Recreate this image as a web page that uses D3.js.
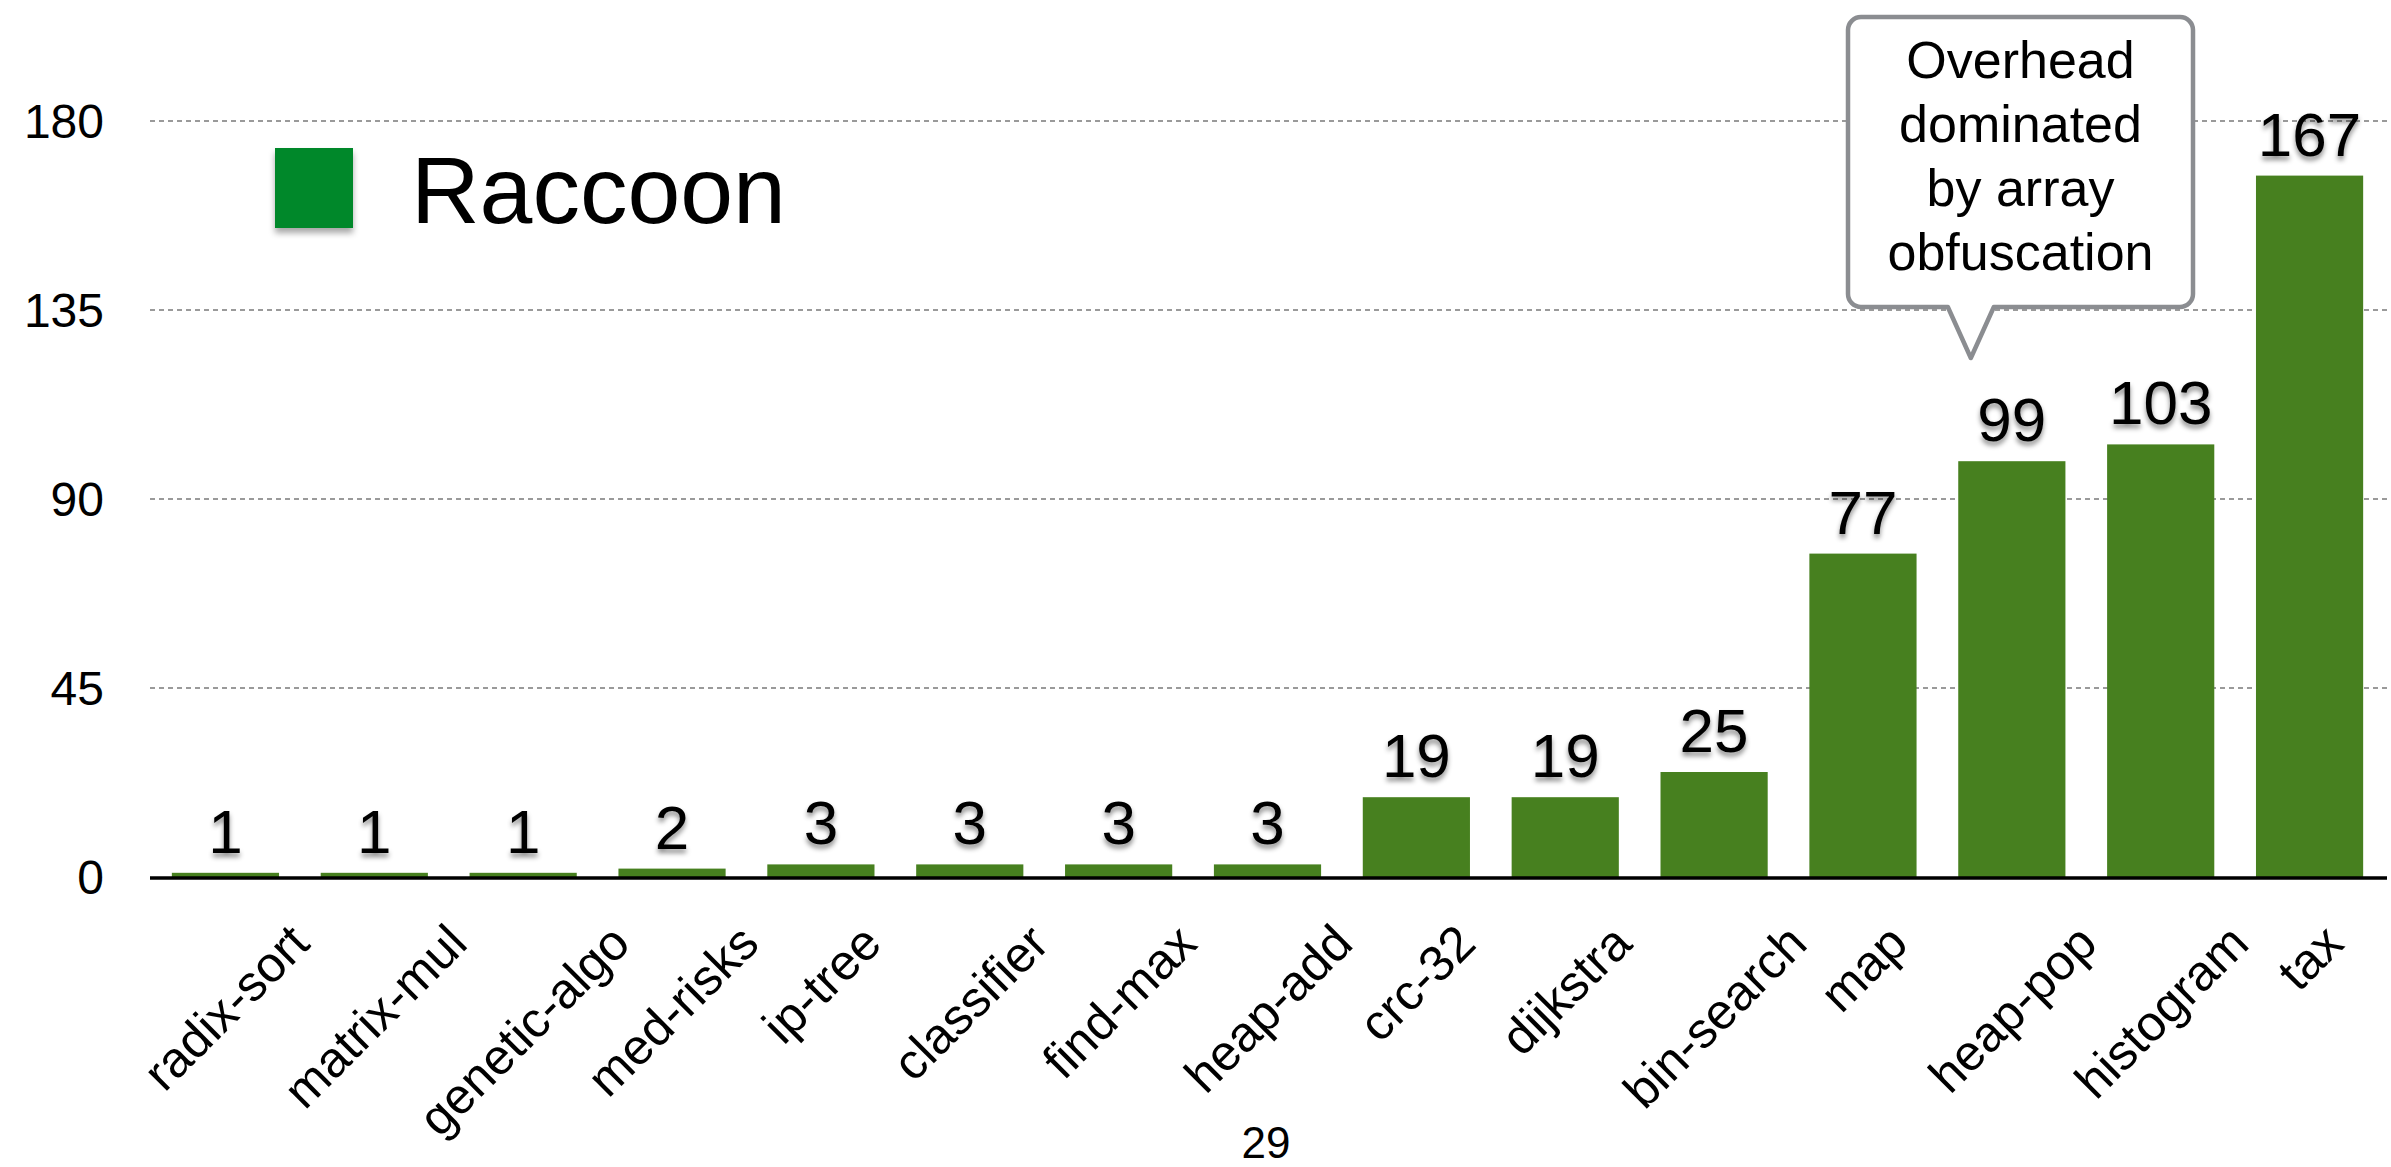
<!DOCTYPE html>
<html>
<head>
<meta charset="utf-8">
<script src="https://cdn.jsdelivr.net/npm/d3@7"></script>
<style>
  html, body { margin: 0; padding: 0; background: #fff; }
  svg { display: block; font-family: "Liberation Sans", "Helvetica Neue", Arial, sans-serif; }
</style>
</head>
<body>
<svg id="chart" width="2391" height="1167"></svg>
<script>
const categories = ["radix-sort","matrix-mul","genetic-algo","med-risks","ip-tree","classifier","find-max","heap-add","crc-32","dijkstra","bin-search","map","heap-pop","histogram","tax"];
const values = [1,1,1,2,3,3,3,3,19,19,25,77,99,103,167];
const yTicks = [0,45,90,135,180];
const seriesName = "Raccoon";
const calloutLines = ["Overhead","dominated","by array","obfuscation"];
const calloutTarget = "heap-pop";
const pageNumber = "29";

const W = 2391, H = 1167;
const svg = d3.select("#chart");

const defs = svg.append("defs");
const sh = defs.append("filter").attr("id","tshadow").attr("x","-20%").attr("y","-20%").attr("width","140%").attr("height","150%");
sh.append("feDropShadow").attr("dx",0).attr("dy",4).attr("stdDeviation",2.5).attr("flood-color","#000").attr("flood-opacity",0.45);
const sh2 = defs.append("filter").attr("id","bshadow").attr("x","-20%").attr("y","-20%").attr("width","140%").attr("height","150%");
sh2.append("feDropShadow").attr("dx",0).attr("dy",5).attr("stdDeviation",3).attr("flood-color","#000").attr("flood-opacity",0.35);

const x = d3.scaleBand().domain(categories).range([151, 2384]).paddingInner(0.28).paddingOuter(0.14);
const y = d3.scaleLinear().domain([0,180]).range([877,121]);

// gridlines
const grid = svg.append("g");
grid.selectAll("line").data(yTicks.filter(d => d > 0)).join("line")
  .attr("x1",150).attr("x2",2387)
  .attr("y1",d => y(d)).attr("y2",d => y(d))
  .attr("stroke","#9a9a9a").attr("stroke-width",2.2).attr("stroke-dasharray","5,4");

// y axis labels
const yAxis = d3.axisLeft(y).tickValues(yTicks).tickSize(0).tickPadding(0);
const yg = svg.append("g").attr("transform","translate(104,0)").call(yAxis);
yg.select(".domain").remove();
yg.selectAll("text").attr("font-size",48).attr("fill","#000")
  .attr("font-family",'"Liberation Sans", Arial, sans-serif').attr("dy","0.35em");

// bars
svg.append("g").selectAll("rect").data(values).join("rect")
  .attr("x",(d,i) => x(categories[i]))
  .attr("width",x.bandwidth())
  .attr("y",d => y(d))
  .attr("height",d => y(0) - y(d))
  .attr("fill","#47801f");

// baseline
svg.append("line").attr("x1",150).attr("x2",2387).attr("y1",y(0)+1).attr("y2",y(0)+1)
  .attr("stroke","#000").attr("stroke-width",3.5);

// value labels
svg.append("g").selectAll("text").data(values).join("text")
  .attr("x",(d,i) => x(categories[i]) + x.bandwidth()/2)
  .attr("y",d => y(d) - 20)
  .attr("text-anchor","middle")
  .attr("font-size",62)
  .attr("fill","#000")
  .attr("filter","url(#tshadow)")
  .text(d => d);

// x axis labels (rotated, rotated box centred under bar, tops aligned)
const xAxis = d3.axisBottom(x).tickSize(0).tickPadding(0);
const xg = svg.append("g").attr("transform",`translate(0,${y(0)})`).call(xAxis);
xg.select(".domain").remove();
const asc = 36;
xg.selectAll(".tick text")
  .attr("font-size",50).attr("fill","#000")
  .attr("font-family",'"Liberation Sans", Arial, sans-serif')
  .attr("text-anchor","end")
  .attr("dy",null).attr("y",null)
  .each(function() {
    const L = this.getComputedTextLength();
    const ex = 0.354 * (L + asc);
    d3.select(this).attr("transform",`translate(${ex},69) rotate(-45)`);
  });

// legend
svg.append("rect").attr("x",275).attr("y",148).attr("width",78).attr("height",80)
  .attr("fill","#00882b").attr("filter","url(#bshadow)");
svg.append("text").attr("x",411).attr("y",223).attr("font-size",95).attr("fill","#000").text(seriesName);

// callout
const tipX = x(calloutTarget) + x.bandwidth()/2 - 41;
const tipY = 358;
const bx0 = 1848, bx1 = 2193, by0 = 17, by1 = 307, r = 13;
const pl = tipX - 23, pr = tipX + 23;
const p = d3.path();
p.moveTo(bx0 + r, by0);
p.lineTo(bx1 - r, by0);
p.arcTo(bx1, by0, bx1, by0 + r, r);
p.lineTo(bx1, by1 - r);
p.arcTo(bx1, by1, bx1 - r, by1, r);
p.lineTo(pr, by1);
p.lineTo(tipX, tipY);
p.lineTo(pl, by1);
p.lineTo(bx0 + r, by1);
p.arcTo(bx0, by1, bx0, by1 - r, r);
p.lineTo(bx0, by0 + r);
p.arcTo(bx0, by0, bx0 + r, by0, r);
p.closePath();
svg.append("path").attr("d",p.toString()).attr("fill","#fff").attr("stroke","#8b8d91").attr("stroke-width",4.5).attr("stroke-linejoin","round");
svg.append("g").selectAll("text").data(calloutLines).join("text")
  .attr("x",(bx0+bx1)/2).attr("y",(d,i) => 78 + i*64)
  .attr("text-anchor","middle").attr("font-size",52).attr("fill","#000")
  .text(d => d);

// page number
svg.append("text").attr("x",1266).attr("y",1158).attr("text-anchor","middle").attr("font-size",44).attr("fill","#000").text(pageNumber);
</script>
</body>
</html>
